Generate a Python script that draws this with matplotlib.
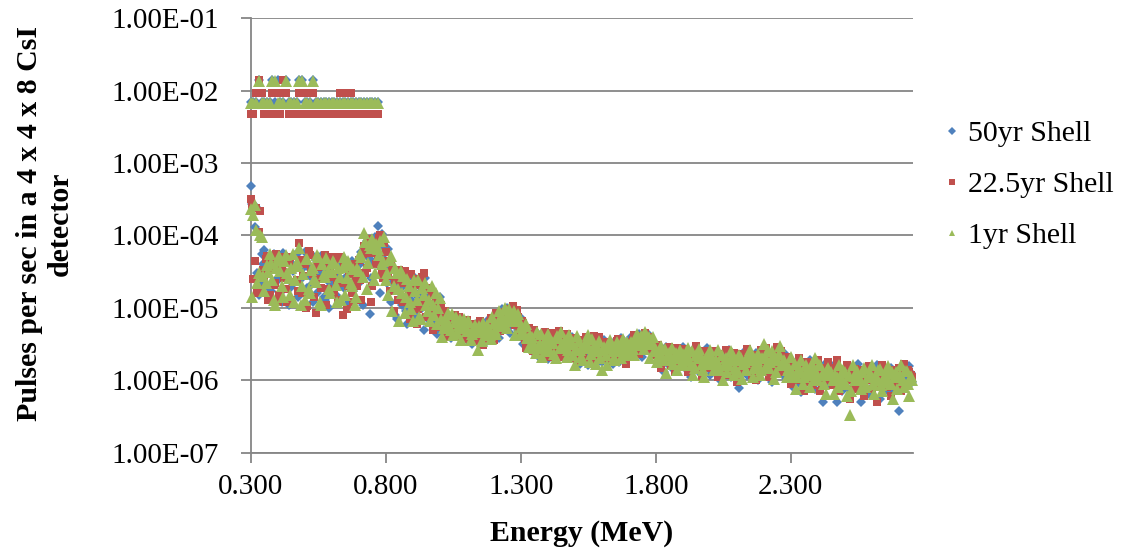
import numpy as np
import matplotlib
matplotlib.use('Agg')
import matplotlib.pyplot as plt
from matplotlib.lines import Line2D
from matplotlib.ticker import FuncFormatter, NullLocator

plt.rcParams['font.family'] = ['Liberation Serif', 'DejaVu Serif']

# energy bins (MeV): 0.300 .. 2.750 every 10 keV, plus the in-between bins 0.305 .. 2.745
energy = np.round(np.arange(300, 2760, 10) / 1000.0, 3)
energy_b = np.round(energy[:-1] + 0.005, 3)

# pulses per second
shell_50yr = [
    # 0.30 - 0.34
    4.8e-4, 2.6e-4, 2.5e-4, 1.5e-5, 5.5e-5,
    # 0.35 - 0.69
    6.3e-5, 2.0e-5, 3.6e-5, 1.3e-5, 4.8e-5, 2.6e-5, 1.6e-5, 5.8e-5, 3.0e-5, 1.1e-5,
    4.2e-5, 2.2e-5, 5.5e-5, 1.5e-5, 3.4e-5, 6.0e-5, 1.9e-5, 2.8e-5, 1.2e-5, 4.6e-5,
    2.4e-5, 5.2e-5, 1.4e-5, 3.3e-5, 1.0e-5, 4.4e-5, 2.1e-5, 3.8e-5, 1.3e-5, 4.9e-5,
    2.6e-5, 1.1e-5, 3.2e-5, 1.7e-5, 4.0e-5,
    # 0.70 - 0.80
    2.2e-5, 6.0e-5, 3.0e-5, 8.4e-5, 8.3e-6, 4.5e-5, 9.5e-5, 1.37e-4, 1.6e-5, 7.0e-5, 3.5e-5,
    # 0.81 - 0.85
    6.5e-5, 1.2e-5, 3.3e-5, 7.0e-6, 2.0e-5,
    # 0.86 - 0.95
    1.1e-5, 2.6e-5, 6.0e-6, 1.8e-5, 2.8e-5, 8.0e-6, 1.4e-5, 2.3e-5, 5.0e-6, 1.6e-5,
    # 0.96 - 1.00
    1.8e-5, 6.0e-6, 1.1e-5, 4.4e-6, 1.4e-5,
    # 1.01 - 1.10
    8.5e-6, 4.5e-6, 6.5e-6, 3.8e-6, 7.8e-6, 5.0e-6, 4.0e-6, 7.0e-6, 5.5e-6, 3.6e-6,
    # 1.11 - 1.17
    5.6e-6, 3.2e-6, 4.6e-6, 6.3e-6, 3.8e-6, 5.2e-6, 3.4e-6,
    # 1.18 - 1.22
    6.8e-6, 4.0e-6, 7.8e-6, 5.0e-6, 3.8e-6,
    # 1.23 - 1.29
    9.5e-6, 6.0e-6, 1.0e-5, 4.5e-6, 8.0e-6, 9.0e-6, 5.0e-6,
    # 1.30 - 1.33
    7.2e-6, 3.2e-6, 5.0e-6, 3.8e-6,
    # 1.34 - 1.48
    4.8e-6, 2.4e-6, 3.5e-6, 2.0e-6, 4.2e-6, 2.9e-6, 1.95e-6, 3.8e-6, 2.6e-6, 4.5e-6,
    3.1e-6, 2.2e-6, 4.0e-6, 2.7e-6, 3.4e-6,
    # 1.49 - 1.60
    4.0e-6, 2.2e-6, 3.0e-6, 1.7e-6, 3.6e-6, 2.5e-6, 1.6e-6, 3.3e-6, 2.0e-6, 3.9e-6,
    2.7e-6, 1.8e-6,
    # 1.61 - 1.70
    3.6e-6, 2.1e-6, 2.8e-6, 1.7e-6, 3.3e-6, 2.4e-6, 3.8e-6, 1.9e-6, 2.9e-6, 3.5e-6,
    # 1.71 - 1.79
    4.0e-6, 2.6e-6, 3.4e-6, 4.4e-6, 2.1e-6, 3.8e-6, 4.3e-6, 2.8e-6, 3.3e-6,
    # 1.80 - 1.89
    3.0e-6, 1.8e-6, 2.4e-6, 1.3e-6, 2.9e-6, 2.0e-6, 1.5e-6, 2.7e-6, 1.9e-6, 2.3e-6,
    # 1.90 - 2.00
    2.9e-6, 1.5e-6, 2.2e-6, 1.1e-6, 2.6e-6, 1.8e-6, 1.3e-6, 2.4e-6, 1.7e-6, 2.8e-6, 1.2e-6,
    # 2.01 - 2.19
    2.4e-6, 1.3e-6, 1.9e-6, 1.0e-6, 2.2e-6, 1.5e-6, 2.6e-6, 1.1e-6, 1.8e-6, 2.3e-6,
    7.9e-7, 1.6e-6, 2.5e-6, 1.2e-6, 2.0e-6, 1.4e-6, 2.4e-6, 1.0e-6, 1.7e-6,
    # 2.20 - 2.27
    2.6e-6, 1.4e-6, 2.0e-6, 9.5e-7, 2.4e-6, 1.6e-6, 2.2e-6, 1.2e-6,
    # 2.28 - 2.44
    2.0e-6, 1.1e-6, 1.5e-6, 8.0e-7, 1.8e-6, 1.2e-6, 6.8e-7, 1.6e-6, 1.0e-6, 1.9e-6,
    1.3e-6, 7.5e-7, 1.5e-6, 1.1e-6, 5.0e-7, 1.7e-6, 9.0e-7,
    # 2.45 - 2.75
    1.6e-6, 9.0e-7, 5.0e-7, 1.3e-6, 7.0e-7, 1.5e-6, 1.0e-6, 6.0e-7, 1.4e-6, 8.0e-7,
    1.7e-6, 5.0e-7, 1.1e-6, 1.45e-6, 6.5e-7, 1.2e-6, 8.5e-7, 1.6e-6, 5.5e-7, 1.0e-6,
    1.35e-6, 7.0e-7, 1.5e-6, 9.0e-7, 1.2e-6, 3.8e-7, 1.4e-6, 7.5e-7, 1.1e-6, 1.55e-6,
    9.5e-7,
]
shell_50yr_b = [
    # 0.305 - 0.345
    2.7e-4, 1.3e-4, 3.0e-5, 2.2e-5, 4.0e-5,
    # 0.355 - 0.695
    3.0e-5, 4.4e-5, 1.7e-5, 5.6e-5, 2.3e-5, 3.9e-5, 1.2e-5, 2.7e-5, 4.6e-5, 1.9e-5,
    3.2e-5, 5.3e-5, 1.4e-5, 2.5e-5, 4.1e-5, 1.1e-5, 3.5e-5, 2.1e-5, 5.0e-5, 1.6e-5,
    2.9e-5, 4.3e-5, 1.3e-5, 3.7e-5, 2.2e-5, 4.7e-5, 1.5e-5, 2.8e-5, 4.0e-5, 1.9e-5,
    3.3e-5, 1.2e-5, 4.4e-5, 2.4e-5, 3.0e-5,
    # 0.705 - 0.805
    4.0e-5, 1.1e-5, 7.0e-5, 5.0e-5, 2.6e-5, 8.8e-5, 6.2e-5, 3.8e-5, 1.05e-4, 5.5e-5, 2.2e-5,
    # 0.815 - 0.855
    3.9e-5, 2.2e-5, 8.0e-6, 2.8e-5, 1.4e-5,
    # 0.865 - 0.955
    2.0e-5, 9.0e-6, 2.7e-5, 1.3e-5, 6.5e-6, 2.2e-5, 1.6e-5, 1.0e-5, 2.6e-5, 7.0e-6,
    # 0.965 - 1.005
    9.5e-6, 1.6e-5, 7.0e-6, 1.25e-5, 5.0e-6,
    # 1.015 - 1.105
    6.0e-6, 8.0e-6, 4.8e-6, 5.8e-6, 4.2e-6, 7.2e-6, 6.0e-6, 4.4e-6, 6.6e-6, 5.0e-6,
    # 1.115 - 1.175
    4.2e-6, 5.8e-6, 3.9e-6, 5.0e-6, 4.4e-6, 6.0e-6, 4.6e-6,
    # 1.185 - 1.225
    5.4e-6, 6.4e-6, 4.5e-6, 6.8e-6, 8.2e-6,
    # 1.235 - 1.295
    7.0e-6, 8.4e-6, 5.5e-6, 9.4e-6, 6.4e-6, 7.4e-6, 6.0e-6,
    # 1.305 - 1.335
    5.8e-6, 4.4e-6, 3.4e-6, 4.8e-6,
    # 1.345 - 1.485
    3.7e-6, 3.0e-6, 4.4e-6, 2.5e-6, 3.4e-6, 4.0e-6, 2.3e-6, 3.1e-6, 3.9e-6, 2.8e-6,
    3.5e-6, 4.2e-6, 2.4e-6, 3.2e-6, 3.8e-6,
    # 1.495 - 1.605
    2.8e-6, 3.4e-6, 2.0e-6, 2.9e-6, 1.9e-6, 3.5e-6, 2.3e-6, 2.9e-6, 3.6e-6, 1.8e-6,
    3.1e-6, 2.4e-6,
    # 1.615 - 1.705
    2.5e-6, 3.2e-6, 2.0e-6, 3.4e-6, 2.7e-6, 1.8e-6, 3.0e-6, 2.6e-6, 3.3e-6, 2.2e-6,
    # 1.715 - 1.795
    3.1e-6, 3.8e-6, 2.4e-6, 3.6e-6, 4.1e-6, 3.0e-6, 3.6e-6, 2.4e-6, 3.0e-6,
    # 1.805 - 1.895
    2.2e-6, 2.6e-6, 1.6e-6, 2.3e-6, 1.7e-6, 2.5e-6, 2.2e-6, 1.6e-6, 2.5e-6, 1.8e-6,
    # 1.905 - 2.005
    1.9e-6, 2.5e-6, 1.4e-6, 2.0e-6, 2.2e-6, 1.5e-6, 2.1e-6, 1.9e-6, 2.3e-6, 1.5e-6, 2.0e-6,
    # 2.015 - 2.195
    1.7e-6, 2.2e-6, 1.4e-6, 1.9e-6, 1.2e-6, 2.1e-6, 1.6e-6, 2.0e-6, 1.3e-6, 1.7e-6,
    2.2e-6, 1.4e-6, 1.9e-6, 1.6e-6, 1.2e-6, 2.0e-6, 1.5e-6, 2.1e-6, 1.3e-6,
    # 2.205 - 2.275
    1.8e-6, 2.3e-6, 1.2e-6, 1.7e-6, 2.0e-6, 1.3e-6, 1.9e-6, 2.4e-6,
    # 2.285 - 2.445
    1.4e-6, 1.7e-6, 1.0e-6, 1.3e-6, 1.6e-6, 9.0e-7, 1.4e-6, 1.2e-6, 1.6e-6, 8.5e-7,
    1.3e-6, 1.5e-6, 1.0e-6, 1.3e-6, 1.6e-6, 9.0e-7, 1.2e-6,
    # 2.455 - 2.745
    1.2e-6, 1.0e-6, 1.4e-6, 8.0e-7, 1.1e-6, 1.3e-6, 7.5e-7, 1.2e-6, 9.5e-7, 1.3e-6,
    8.5e-7, 1.2e-6, 1.0e-6, 1.4e-6, 7.0e-7, 1.1e-6, 1.3e-6, 9.0e-7, 1.2e-6, 8.0e-7,
    1.0e-6, 1.4e-6, 7.0e-7, 1.15e-6, 9.5e-7, 1.3e-6, 8.5e-7, 1.2e-6, 1.0e-6, 1.25e-6,
]

shell_22yr = [
    # 0.30 - 0.34
    3.2e-4, 2.5e-5, 2.4e-4, 1.1e-4, 1.8e-5,
    # 0.35 - 0.69
    2.8e-5, 5.2e-5, 1.5e-5, 4.0e-5, 2.2e-5, 1.2e-5, 5.0e-5, 3.1e-5, 1.8e-5, 4.4e-5,
    1.3e-5, 3.6e-5, 2.4e-5, 7.8e-5, 1.6e-5, 4.1e-5, 1.05e-5, 5.4e-5, 2.9e-5, 8.5e-6,
    3.7e-5, 1.9e-5, 4.5e-5, 1.1e-5, 2.7e-5, 5.1e-5, 1.5e-5, 2.3e-5, 5.0e-5, 8.0e-6,
    3.4e-5, 2.0e-5, 3.9e-5, 1.2e-5, 2.5e-5,
    # 0.70 - 0.80
    4.6e-5, 1.3e-5, 7.2e-5, 3.6e-5, 5.8e-5, 2.0e-5, 8.0e-5, 5.2e-5, 1.0e-4, 2.6e-5, 6.0e-5,
    # 0.81 - 0.85
    2.8e-5, 4.2e-5, 9.0e-6, 2.4e-5, 3.3e-5,
    # 0.86 - 0.95
    2.2e-5, 3.2e-5, 1.4e-5, 7.0e-6, 1.9e-5, 2.5e-5, 9.5e-6, 1.2e-5, 3.0e-5, 7.5e-6,
    # 0.96 - 1.00
    9.0e-6, 1.5e-5, 5.5e-6, 1.2e-5, 7.5e-6,
    # 1.01 - 1.10
    5.5e-6, 9.0e-6, 4.2e-6, 7.2e-6, 5.2e-6, 3.9e-6, 7.5e-6, 4.6e-6, 3.7e-6, 6.8e-6,
    # 1.11 - 1.17
    4.0e-6, 6.0e-6, 3.5e-6, 4.8e-6, 6.5e-6, 3.1e-6, 5.6e-6,
    # 1.18 - 1.22
    4.5e-6, 7.2e-6, 3.6e-6, 8.5e-6, 6.0e-6,
    # 1.23 - 1.29
    5.5e-6, 8.8e-6, 7.0e-6, 9.8e-6, 1.07e-5, 5.8e-6, 7.6e-6,
    # 1.30 - 1.33
    4.0e-6, 6.2e-6, 2.8e-6, 5.2e-6,
    # 1.34 - 1.48
    3.0e-6, 5.0e-6, 2.2e-6, 4.0e-6, 2.7e-6, 4.6e-6, 3.3e-6, 2.1e-6, 4.3e-6, 2.5e-6,
    4.8e-6, 3.6e-6, 2.3e-6, 4.4e-6, 2.0e-6,
    # 1.49 - 1.60
    2.6e-6, 3.8e-6, 1.8e-6, 3.2e-6, 2.2e-6, 4.0e-6, 2.9e-6, 1.7e-6, 4.1e-6, 2.4e-6,
    4.0e-6, 2.0e-6,
    # 1.61 - 1.70
    2.3e-6, 3.4e-6, 1.8e-6, 3.0e-6, 2.1e-6, 3.7e-6, 2.6e-6, 3.3e-6, 1.7e-6, 2.4e-6,
    # 1.71 - 1.79
    2.8e-6, 4.2e-6, 3.0e-6, 2.3e-6, 4.1e-6, 4.5e-6, 2.6e-6, 3.7e-6, 2.4e-6,
    # 1.80 - 1.89
    2.2e-6, 3.1e-6, 1.5e-6, 2.6e-6, 1.8e-6, 2.9e-6, 2.3e-6, 1.3e-6, 2.8e-6, 1.7e-6,
    # 1.90 - 2.00
    1.9e-6, 2.7e-6, 1.3e-6, 2.3e-6, 1.6e-6, 3.0e-6, 2.0e-6, 1.1e-6, 2.5e-6, 1.5e-6, 2.2e-6,
    # 2.01 - 2.19
    1.6e-6, 2.5e-6, 1.1e-6, 2.1e-6, 1.4e-6, 2.6e-6, 1.2e-6, 1.9e-6, 2.4e-6, 9.5e-7,
    1.7e-6, 2.3e-6, 1.3e-6, 2.7e-6, 1.5e-6, 2.2e-6, 1.0e-6, 2.0e-6, 2.6e-6,
    # 2.20 - 2.27
    1.7e-6, 2.8e-6, 1.1e-6, 2.3e-6, 1.5e-6, 2.9e-6, 1.3e-6, 2.1e-6,
    # 2.28 - 2.44
    1.3e-6, 2.1e-6, 9.0e-7, 1.7e-6, 1.1e-6, 2.0e-6, 1.4e-6, 7.0e-7, 1.8e-6, 1.2e-6,
    8.5e-7, 1.6e-6, 1.9e-6, 7.0e-7, 1.4e-6, 1.0e-6, 1.8e-6,
    # 2.45 - 2.75
    1.0e-6, 1.5e-6, 1.9e-6, 7.0e-7, 1.2e-6, 9.0e-7, 1.6e-6, 5.5e-7, 1.1e-6, 1.45e-6,
    8.0e-7, 1.3e-6, 6.0e-7, 1.0e-6, 1.55e-6, 7.5e-7, 1.3e-6, 5.0e-7, 1.2e-6, 1.6e-6,
    8.5e-7, 1.1e-6, 6.0e-7, 1.4e-6, 1.0e-6, 1.5e-6, 7.0e-7, 1.7e-6, 9.0e-7, 1.3e-6,
    1.1e-6,
]
shell_22yr_b = [
    # 0.305 - 0.345
    2.6e-4, 4.5e-5, 1.6e-5, 2.2e-4, 3.3e-5,
    # 0.355 - 0.695
    4.7e-5, 1.3e-5, 3.3e-5, 2.1e-5, 5.5e-5, 1.5e-5, 4.0e-5, 2.6e-5, 1.2e-5, 5.0e-5,
    2.3e-5, 3.6e-5, 1.7e-5, 4.6e-5, 2.8e-5, 1.0e-5, 6.2e-5, 3.1e-5, 1.4e-5, 4.2e-5,
    2.5e-5, 1.1e-5, 5.3e-5, 1.8e-5, 3.4e-5, 2.7e-5, 4.8e-5, 1.3e-5, 2.2e-5, 3.8e-5,
    9.5e-6, 2.9e-5, 1.6e-5, 4.1e-5, 2.0e-5,
    # 0.705 - 0.805
    2.4e-5, 5.5e-5, 3.0e-5, 8.8e-5, 1.2e-5, 6.5e-5, 4.0e-5, 9.2e-5, 3.2e-5, 7.8e-5, 4.4e-5,
    # 0.815 - 0.855
    1.7e-5, 3.5e-5, 2.4e-5, 1.3e-5, 2.6e-5,
    # 0.865 - 0.955
    1.2e-5, 2.4e-5, 1.7e-5, 2.9e-5, 1.1e-5, 6.0e-6, 2.1e-5, 2.7e-5, 1.3e-5, 1.8e-5,
    # 0.965 - 1.005
    1.9e-5, 5.0e-6, 1.3e-5, 9.0e-6, 1.1e-5,
    # 1.015 - 1.105
    7.8e-6, 4.0e-6, 6.6e-6, 5.6e-6, 8.0e-6, 4.6e-6, 5.4e-6, 6.8e-6, 4.2e-6, 5.6e-6,
    # 1.115 - 1.175
    5.2e-6, 3.6e-6, 5.4e-6, 4.0e-6, 5.6e-6, 4.4e-6, 3.8e-6,
    # 1.185 - 1.225
    6.4e-6, 4.4e-6, 5.6e-6, 7.0e-6, 4.8e-6,
    # 1.235 - 1.295
    8.0e-6, 5.0e-6, 9.0e-6, 6.6e-6, 8.4e-6, 9.2e-6, 5.2e-6,
    # 1.305 - 1.335
    6.6e-6, 3.6e-6, 4.6e-6, 3.2e-6,
    # 1.345 - 1.485
    2.5e-6, 4.2e-6, 3.2e-6, 3.6e-6, 2.2e-6, 3.9e-6, 2.9e-6, 4.5e-6, 3.0e-6, 3.4e-6,
    2.1e-6, 3.8e-6, 2.7e-6, 3.5e-6, 3.0e-6,
    # 1.495 - 1.605
    3.3e-6, 2.0e-6, 2.7e-6, 3.6e-6, 2.6e-6, 1.9e-6, 3.4e-6, 2.6e-6, 2.1e-6, 3.2e-6,
    2.2e-6, 3.0e-6,
    # 1.615 - 1.705
    3.1e-6, 2.2e-6, 2.9e-6, 2.4e-6, 3.5e-6, 2.0e-6, 3.1e-6, 2.2e-6, 2.9e-6, 3.4e-6,
    # 1.715 - 1.795
    3.6e-6, 2.6e-6, 3.9e-6, 3.2e-6, 2.8e-6, 3.7e-6, 4.0e-6, 3.0e-6, 2.7e-6,
    # 1.805 - 1.895
    2.6e-6, 1.9e-6, 2.4e-6, 2.0e-6, 2.6e-6, 1.6e-6, 2.0e-6, 2.4e-6, 1.6e-6, 2.2e-6,
    # 1.905 - 2.005
    2.3e-6, 1.7e-6, 2.1e-6, 1.4e-6, 2.4e-6, 1.8e-6, 1.5e-6, 2.2e-6, 1.9e-6, 2.5e-6, 1.6e-6,
    # 2.015 - 2.195
    2.0e-6, 1.4e-6, 2.3e-6, 1.6e-6, 1.9e-6, 1.3e-6, 2.1e-6, 1.5e-6, 1.7e-6, 2.2e-6,
    1.3e-6, 1.9e-6, 1.6e-6, 2.1e-6, 1.2e-6, 1.8e-6, 2.2e-6, 1.4e-6, 1.9e-6,
    # 2.205 - 2.275
    2.3e-6, 1.6e-6, 2.0e-6, 1.4e-6, 2.2e-6, 1.8e-6, 2.5e-6, 1.5e-6,
    # 2.285 - 2.445
    1.7e-6, 1.1e-6, 1.5e-6, 1.2e-6, 1.0e-6, 1.6e-6, 1.2e-6, 1.5e-6, 9.5e-7, 1.4e-6,
    1.7e-6, 1.1e-6, 1.3e-6, 8.5e-7, 1.5e-6, 1.3e-6, 1.1e-6,
    # 2.455 - 2.745
    8.5e-7, 1.3e-6, 1.1e-6, 1.4e-6, 9.0e-7, 1.2e-6, 1.0e-6, 1.35e-6, 7.5e-7, 1.1e-6,
    1.4e-6, 9.0e-7, 1.2e-6, 7.5e-7, 1.3e-6, 1.0e-6, 8.5e-7, 1.3e-6, 1.1e-6, 1.45e-6,
    8.0e-7, 1.2e-6, 1.0e-6, 1.35e-6, 8.0e-7, 1.1e-6, 1.3e-6, 9.0e-7, 1.4e-6, 1.2e-6,
]

shell_1yr = [
    # 0.30 - 0.34
    2.3e-4, 1.9e-4, 1.2e-4, 3.0e-5, 9.5e-5,
    # 0.35 - 0.69
    1.7e-5, 3.9e-5, 5.6e-5, 2.4e-5, 1.1e-5, 4.6e-5, 3.2e-5, 1.4e-5, 5.4e-5, 2.6e-5,
    3.5e-5, 1.2e-5, 4.3e-5, 6.8e-5, 2.0e-5, 1.3e-5, 4.7e-5, 1.6e-5, 3.6e-5, 2.3e-5,
    5.0e-5, 1.1e-5, 2.9e-5, 4.9e-5, 1.8e-5, 3.1e-5, 4.2e-5, 1.2e-5, 2.7e-5, 3.7e-5,
    1.5e-5, 4.4e-5, 2.2e-5, 3.4e-5, 1.4e-5,
    # 0.70 - 0.80
    3.2e-5, 5.0e-5, 1.07e-4, 1.8e-5, 7.5e-5, 9.0e-5, 3.0e-5, 6.5e-5, 8.5e-5, 4.5e-5, 2.4e-5,
    # 0.81 - 0.85
    1.5e-5, 5.2e-5, 2.0e-5, 3.0e-5, 6.5e-6,
    # 0.86 - 0.95
    1.6e-5, 8.5e-6, 2.5e-5, 1.2e-5, 6.5e-6, 1.7e-5, 2.4e-5, 7.0e-6, 1.5e-5, 1.1e-5,
    # 0.96 - 1.00
    1.3e-5, 2.0e-5, 8.0e-6, 6.0e-6, 1.35e-5,
    # 1.01 - 1.10
    4.0e-6, 6.2e-6, 8.6e-6, 5.0e-6, 4.2e-6, 7.6e-6, 5.8e-6, 3.6e-6, 7.1e-6, 4.8e-6,
    # 1.11 - 1.17
    6.4e-6, 4.4e-6, 5.8e-6, 2.6e-6, 4.9e-6, 6.2e-6, 4.2e-6,
    # 1.18 - 1.22
    5.5e-6, 3.7e-6, 6.2e-6, 4.3e-6, 9.0e-6,
    # 1.23 - 1.29
    7.8e-6, 1.0e-5, 5.2e-6, 8.6e-6, 6.5e-6, 4.2e-6, 8.2e-6,
    # 1.30 - 1.33
    5.4e-6, 4.3e-6, 6.0e-6, 2.9e-6,
    # 1.34 - 1.48
    3.9e-6, 2.8e-6, 4.7e-6, 3.2e-6, 2.1e-6, 3.6e-6, 4.4e-6, 2.5e-6, 3.3e-6, 2.0e-6,
    3.8e-6, 4.6e-6, 2.9e-6, 2.1e-6, 4.2e-6,
    # 1.49 - 1.60
    3.2e-6, 1.6e-6, 4.1e-6, 2.6e-6, 1.9e-6, 3.4e-6, 4.2e-6, 2.3e-6, 3.0e-6, 1.7e-6,
    3.5e-6, 1.4e-6,
    # 1.61 - 1.70
    2.9e-6, 1.65e-6, 3.6e-6, 2.5e-6, 1.9e-6, 3.0e-6, 2.0e-6, 3.7e-6, 2.6e-6, 2.2e-6,
    # 1.71 - 1.79
    3.4e-6, 2.2e-6, 4.3e-6, 3.1e-6, 3.7e-6, 4.6e-6, 3.2e-6, 2.0e-6, 3.9e-6,
    # 1.80 - 1.89
    2.6e-6, 2.1e-6, 3.0e-6, 1.9e-6, 1.25e-6, 2.4e-6, 2.8e-6, 2.0e-6, 1.4e-6, 2.6e-6,
    # 1.90 - 2.00
    2.3e-6, 2.0e-6, 2.8e-6, 1.6e-6, 1.2e-6, 2.2e-6, 2.7e-6, 1.7e-6, 1.1e-6, 2.1e-6, 2.6e-6,
    # 2.01 - 2.19
    2.0e-6, 1.7e-6, 2.6e-6, 1.4e-6, 1.0e-6, 2.0e-6, 1.6e-6, 2.5e-6, 1.2e-6, 1.9e-6,
    2.2e-6, 1.05e-6, 1.8e-6, 2.1e-6, 2.6e-6, 1.1e-6, 1.7e-6, 2.3e-6, 1.4e-6,
    # 2.20 - 2.27
    3.2e-6, 2.0e-6, 1.5e-6, 2.5e-6, 1.05e-6, 1.9e-6, 3.0e-6, 1.6e-6,
    # 2.28 - 2.44
    1.6e-6, 1.4e-6, 2.1e-6, 1.2e-6, 7.5e-7, 1.5e-6, 1.9e-6, 1.1e-6, 1.4e-6, 8.0e-7,
    1.7e-6, 2.0e-6, 1.0e-6, 1.6e-6, 1.2e-6, 6.5e-7, 1.5e-6,
    # 2.45 - 2.75
    1.3e-6, 6.5e-7, 1.1e-6, 1.6e-6, 9.5e-7, 1.3e-6, 6.0e-7, 3.3e-7, 1.6e-6, 1.0e-6,
    1.2e-6, 7.5e-7, 1.5e-6, 8.5e-7, 1.1e-6, 1.65e-6, 6.5e-7, 1.0e-6, 1.45e-6, 7.0e-7,
    1.2e-6, 1.55e-6, 9.0e-7, 5.5e-7, 1.3e-6, 1.1e-6, 1.6e-6, 8.0e-7, 1.35e-6, 6.0e-7,
    1.0e-6,
]
shell_1yr_b = [
    # 0.305 - 0.345
    1.4e-5, 2.6e-4, 2.2e-5, 1.0e-4, 2.8e-5,
    # 0.355 - 0.695
    2.2e-5, 3.1e-5, 4.2e-5, 1.3e-5, 3.6e-5, 5.2e-5, 2.0e-5, 4.4e-5, 3.0e-5, 1.5e-5,
    5.6e-5, 2.4e-5, 3.8e-5, 1.1e-5, 2.9e-5, 4.8e-5, 1.8e-5, 3.3e-5, 2.5e-5, 5.4e-5,
    1.2e-5, 4.0e-5, 2.7e-5, 3.2e-5, 1.6e-5, 4.5e-5, 2.1e-5, 3.5e-5, 1.3e-5, 5.0e-5,
    2.6e-5, 3.9e-5, 2.0e-5, 1.1e-5, 3.6e-5,
    # 0.705 - 0.805
    5.6e-5, 2.7e-5, 8.0e-5, 4.2e-5, 6.8e-5, 2.4e-5, 7.6e-5, 5.4e-5, 4.0e-5, 9.5e-5, 3.0e-5,
    # 0.815 - 0.855
    4.6e-5, 9.0e-6, 3.6e-5, 1.8e-5, 3.2e-5,
    # 0.865 - 0.955
    2.8e-5, 1.4e-5, 2.0e-5, 9.5e-6, 2.4e-5, 1.3e-5, 7.5e-6, 1.9e-5, 2.2e-5, 9.0e-6,
    # 0.965 - 1.005
    6.5e-6, 1.1e-5, 1.6e-5, 1.0e-5, 7.0e-6,
    # 1.015 - 1.105
    5.2e-6, 7.0e-6, 5.6e-6, 8.2e-6, 6.4e-6, 4.5e-6, 7.0e-6, 5.2e-6, 5.8e-6, 6.6e-6,
    # 1.115 - 1.175
    3.6e-6, 5.0e-6, 4.6e-6, 5.6e-6, 3.5e-6, 4.8e-6, 5.8e-6,
    # 1.185 - 1.225
    4.2e-6, 7.4e-6, 5.0e-6, 6.4e-6, 5.6e-6,
    # 1.235 - 1.295
    6.0e-6, 7.2e-6, 9.6e-6, 7.0e-6, 9.0e-6, 7.6e-6, 6.6e-6,
    # 1.305 - 1.335
    4.8e-6, 5.6e-6, 3.8e-6, 4.2e-6,
    # 1.345 - 1.485
    3.3e-6, 2.4e-6, 3.0e-6, 4.4e-6, 2.8e-6, 2.6e-6, 3.7e-6, 3.4e-6, 2.3e-6, 4.1e-6,
    2.8e-6, 3.1e-6, 3.6e-6, 2.6e-6, 3.5e-6,
    # 1.495 - 1.605
    2.2e-6, 2.7e-6, 3.5e-6, 2.1e-6, 3.0e-6, 2.8e-6, 1.8e-6, 3.7e-6, 2.5e-6, 2.8e-6,
    2.0e-6, 2.6e-6,
    # 1.615 - 1.705
    2.2e-6, 2.8e-6, 3.2e-6, 2.0e-6, 3.4e-6, 2.5e-6, 2.9e-6, 2.3e-6, 3.4e-6, 2.8e-6,
    # 1.715 - 1.795
    2.7e-6, 3.6e-6, 3.3e-6, 4.1e-6, 2.7e-6, 3.5e-6, 3.9e-6, 3.4e-6, 2.5e-6,
    # 1.805 - 1.895
    1.8e-6, 2.3e-6, 2.1e-6, 2.7e-6, 2.2e-6, 1.9e-6, 1.7e-6, 2.4e-6, 2.1e-6, 1.7e-6,
    # 1.905 - 2.005
    1.6e-6, 2.2e-6, 1.9e-6, 2.5e-6, 1.5e-6, 2.0e-6, 2.3e-6, 1.4e-6, 2.0e-6, 1.7e-6, 2.2e-6,
    # 2.015 - 2.195
    1.4e-6, 1.9e-6, 1.6e-6, 2.2e-6, 1.7e-6, 1.3e-6, 1.9e-6, 2.1e-6, 1.5e-6, 1.3e-6,
    2.0e-6, 1.7e-6, 1.4e-6, 1.9e-6, 2.1e-6, 1.5e-6, 1.9e-6, 1.2e-6, 2.0e-6,
    # 2.205 - 2.275
    1.5e-6, 2.6e-6, 1.8e-6, 2.1e-6, 1.3e-6, 2.3e-6, 1.6e-6, 1.9e-6,
    # 2.285 - 2.445
    1.1e-6, 1.5e-6, 1.3e-6, 1.7e-6, 1.1e-6, 1.3e-6, 9.0e-7, 1.6e-6, 1.2e-6, 1.4e-6,
    1.0e-6, 1.3e-6, 1.6e-6, 1.2e-6, 9.0e-7, 1.4e-6, 1.2e-6,
    # 2.455 - 2.745
    1.0e-6, 1.2e-6, 8.0e-7, 1.1e-6, 1.4e-6, 9.0e-7, 1.2e-6, 7.0e-7, 1.15e-6, 1.35e-6,
    1.0e-6, 1.3e-6, 8.0e-7, 1.1e-6, 1.25e-6, 9.0e-7, 1.15e-6, 1.4e-6, 8.5e-7, 1.0e-6,
    1.25e-6, 9.5e-7, 1.3e-6, 1.1e-6, 7.5e-7, 1.2e-6, 1.0e-6, 1.35e-6, 9.0e-7, 1.15e-6,
]

# the separate high rows near 1E-02, bins 0.30 .. 0.77
top_energy = energy[:48]
shell_50yr_top = [
    7.0e-3, 7.0e-3, 7.0e-3, 1.4e-2, 7.0e-3, 7.0e-3, 7.0e-3, 7.0e-3, 1.4e-2, 7.0e-3,
    1.4e-2, 7.0e-3, 7.0e-3, 1.4e-2, 7.0e-3, 7.0e-3, 7.0e-3, 7.0e-3, 1.4e-2, 1.4e-2,
    7.0e-3, 7.0e-3, 7.0e-3, 1.4e-2, 7.0e-3, 7.0e-3, 7.0e-3, 7.0e-3, 7.0e-3, 7.0e-3,
    7.0e-3, 7.0e-3, 7.0e-3, 7.0e-3, 7.0e-3, 7.0e-3, 7.0e-3, 7.0e-3, 7.0e-3, 7.0e-3,
    7.0e-3, 7.0e-3, 7.0e-3, 7.0e-3, 7.0e-3, 7.0e-3, 7.0e-3, 7.0e-3,
]
shell_22yr_top = [
    4.7e-3, 4.7e-3, 9.4e-3, 1.4e-2, 9.4e-3, 4.7e-3, 4.7e-3, 4.7e-3, 9.4e-3, 4.7e-3,
    9.4e-3, 4.7e-3, 1.4e-2, 9.4e-3, 4.7e-3, 4.7e-3, 4.7e-3, 4.7e-3, 9.4e-3, 4.7e-3,
    9.4e-3, 4.7e-3, 4.7e-3, 9.4e-3, 4.7e-3, 4.7e-3, 4.7e-3, 4.7e-3, 4.7e-3, 4.7e-3,
    4.7e-3, 4.7e-3, 4.7e-3, 9.4e-3, 4.7e-3, 9.4e-3, 4.7e-3, 9.4e-3, 4.7e-3, 4.7e-3,
    4.7e-3, 4.7e-3, 4.7e-3, 4.7e-3, 4.7e-3, 4.7e-3, 4.7e-3, 4.7e-3,
]
shell_1yr_top = [
    6.8e-3, 6.8e-3, 6.8e-3, 1.35e-2, 6.8e-3, 6.8e-3, 6.8e-3, 6.8e-3, 1.35e-2, 1.35e-2,
    6.8e-3, 6.8e-3, 6.8e-3, 1.35e-2, 6.8e-3, 6.8e-3, 6.8e-3, 6.8e-3, 1.35e-2, 1.35e-2,
    6.8e-3, 6.8e-3, 6.8e-3, 1.35e-2, 6.8e-3, 6.8e-3, 6.8e-3, 6.8e-3, 6.8e-3, 6.8e-3,
    6.8e-3, 6.8e-3, 6.8e-3, 6.8e-3, 6.8e-3, 6.8e-3, 6.8e-3, 6.8e-3, 6.8e-3, 6.8e-3,
    6.8e-3, 6.8e-3, 6.8e-3, 6.8e-3, 6.8e-3, 6.8e-3, 6.8e-3, 6.8e-3,
]

labels = ['50yr Shell', '22.5yr Shell', '1yr Shell']
colors = ['#4F81BD', '#C0504D', '#9BBB59']
markers = ['D', 's', '^']
sizes = [5.0, 6.4, 8.0]

fig = plt.figure(figsize=(11.35, 5.54), dpi=100)
ax = fig.add_axes([0.2209, 0.1829, 0.5835, 0.7841])

data = [
    (shell_50yr, shell_50yr_b, shell_50yr_top),
    (shell_22yr, shell_22yr_b, shell_22yr_top),
    (shell_1yr, shell_1yr_b, shell_1yr_top),
]
for i, (main, mid, top) in enumerate(data):
    x = np.concatenate([energy, energy_b, top_energy])
    y = np.concatenate([main, mid, top])
    ax.plot(x, y, ls='none', marker=markers[i], ms=sizes[i], color=colors[i],
            mew=0, clip_on=False, zorder=3 + i)

ax.set_yscale('log')
ax.set_ylim(1e-7, 1e-1)
ax.set_xlim(0.3, 2.753)
ax.set_yticks([10.0 ** k for k in range(-7, 0)])
ax.yaxis.set_minor_locator(NullLocator())
ax.yaxis.set_major_formatter(FuncFormatter(lambda v, p: f'{v:.2E}'))
ax.set_xticks([0.3, 0.8, 1.3, 1.8, 2.3])
ax.xaxis.set_major_formatter(FuncFormatter(lambda v, p: f'{v:.3f}'))

ax.grid(axis='y', color='#868686', lw=1.3)
ax.set_axisbelow(True)
for s in ['top', 'right']:
    ax.spines[s].set_visible(False)
for s in ['left', 'bottom']:
    ax.spines[s].set_color('#868686')
    ax.spines[s].set_linewidth(1.3)
ax.tick_params(direction='out', length=7, width=1.3, color='#868686', labelsize=21)
ax.tick_params(axis='y', pad=16)
ax.tick_params(axis='x', pad=8)

fig.text(0.5128, 0.0235, 'Energy (MeV)', ha='center', va='baseline',
         fontsize=21.5, fontweight='bold')
fig.text(0.0395, 0.596, 'Pulses per sec in a 4 x 4 x 8 CsI\ndetector', rotation=90,
         ha='center', va='center', multialignment='center', fontsize=21.5,
         fontweight='bold', linespacing=1.2)

handles = [Line2D([], [], ls='none', marker=markers[i], color=colors[i], mew=0,
                  ms=[3.6, 4.2, 5.0][i]) for i in range(3)]
fig.legend(handles, labels, loc='upper left', bbox_to_anchor=(0.8308, 0.783),
           frameon=False, fontsize=21.5, handlelength=0.6, handletextpad=0.25,
           labelspacing=0.81, borderpad=0, borderaxespad=0)

fig.savefig('out.png', dpi=100)
